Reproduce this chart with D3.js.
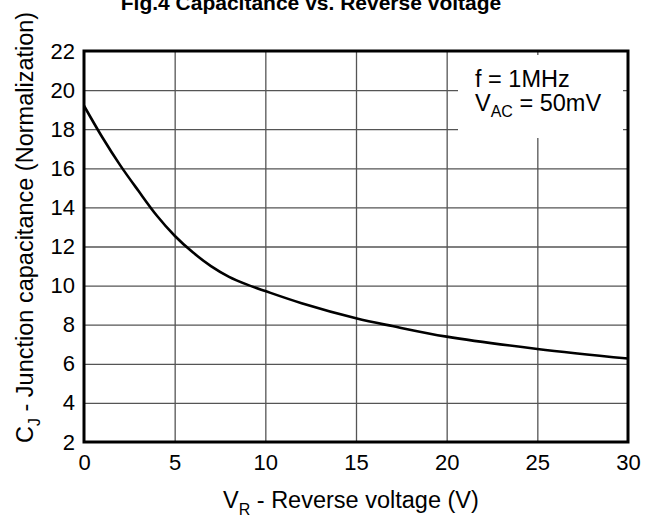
<!DOCTYPE html>
<html>
<head>
<meta charset="utf-8">
<script src="https://cdn.jsdelivr.net/npm/d3@7"></script>
<style>
  html, body { margin: 0; padding: 0; background: #fff; }
  svg { display: block; font-family: "Liberation Sans", Arial, sans-serif; }
</style>
</head>
<body>
<svg id="chart" width="659" height="520"></svg>
<script>
// ---- data ----
const voltage = [0, 1, 2, 3, 4, 5, 6, 7, 8, 9, 10, 12, 15, 17, 20, 25, 30];
const capacitance = [19.2, 17.6, 16.15, 14.85, 13.6, 12.55, 11.7, 11.0, 10.45, 10.05, 9.72, 9.1, 8.33, 7.93, 7.39, 6.76, 6.27];
const xTicks = [0, 5, 10, 15, 20, 25, 30];
const yTicks = [2, 4, 6, 8, 10, 12, 14, 16, 18, 20, 22];
const titleText = "Fig.4  Capacitance vs. Reverse voltage";

const svg = d3.select("#chart");
const L = 84, R = 628, T = 51, B = 442;

const x = d3.scaleLinear().domain([0, 30]).range([L, R]);
const y = d3.scaleLinear().domain([2, 22]).range([B, T]);

// grid lines
const gx = svg.append("g").attr("transform", `translate(0,${B})`)
  .call(d3.axisBottom(x).tickValues(xTicks.slice(1, -1)).tickSize(-(B - T)).tickFormat(""));
gx.select(".domain").remove();
gx.selectAll("line").attr("stroke", "#555").attr("stroke-width", 1.3);

const gy = svg.append("g").attr("transform", `translate(${L},0)`)
  .call(d3.axisLeft(y).tickValues(yTicks.slice(1, -1)).tickSize(-(R - L)).tickFormat(""));
gy.select(".domain").remove();
gy.selectAll("line").attr("stroke", "#555").attr("stroke-width", 1.3);

// legend box (white background hides grid)
svg.append("rect").attr("x", 458).attr("y", 55).attr("width", 165).attr("height", 83).attr("fill", "#fff");

// curve
const line = d3.line().x((d, i) => x(voltage[i])).y(d => y(d)).curve(d3.curveCatmullRom.alpha(0.5));
svg.append("path").datum(capacitance).attr("d", line)
  .attr("fill", "none").attr("stroke", "#000").attr("stroke-width", 2.6);

// frame
svg.append("rect").attr("x", L).attr("y", T).attr("width", R - L).attr("height", B - T)
  .attr("fill", "none").attr("stroke", "#000").attr("stroke-width", 3);

// tick labels via axes
const ax = svg.append("g").attr("transform", `translate(0,${B})`)
  .call(d3.axisBottom(x).tickValues(xTicks).tickSize(0).tickPadding(12));
ax.select(".domain").remove();
ax.selectAll("text").attr("font-size", 22).attr("fill", "#000")
  .attr("font-family", "'Liberation Sans', Arial, sans-serif");

const ay = svg.append("g").attr("transform", `translate(${L},0)`)
  .call(d3.axisLeft(y).tickValues(yTicks).tickSize(0).tickPadding(9));
ay.select(".domain").remove();
ay.selectAll("text").attr("font-size", 22).attr("fill", "#000")
  .attr("font-family", "'Liberation Sans', Arial, sans-serif");

// title
svg.append("text").attr("x", 311).attr("y", 10).attr("text-anchor", "middle")
  .attr("font-size", 21).attr("font-weight", "bold").text(titleText);

// x axis title
const xt = svg.append("text").attr("x", 223).attr("y", 508).attr("font-size", 23.5);
xt.append("tspan").text("V");
xt.append("tspan").attr("font-size", 16).attr("dy", 7).text("R");
xt.append("tspan").attr("dy", -7).text(" - Reverse voltage (V)");

// y axis title
const yt = svg.append("text").attr("transform", "translate(33,443) rotate(-90)").attr("font-size", 23.5);
yt.append("tspan").text("C");
yt.append("tspan").attr("font-size", 16).attr("dy", 7).text("J");
yt.append("tspan").attr("dy", -7).text(" - Junction capacitance (Normalization)");

// legend text
svg.append("text").attr("x", 475).attr("y", 87).attr("font-size", 23.5).text("f = 1MHz");
const lt = svg.append("text").attr("x", 475).attr("y", 111).attr("font-size", 23.5);
lt.append("tspan").text("V");
lt.append("tspan").attr("font-size", 16).attr("dy", 6).text("AC");
lt.append("tspan").attr("dy", -6).text(" = 50mV");
</script>
</body>
</html>
